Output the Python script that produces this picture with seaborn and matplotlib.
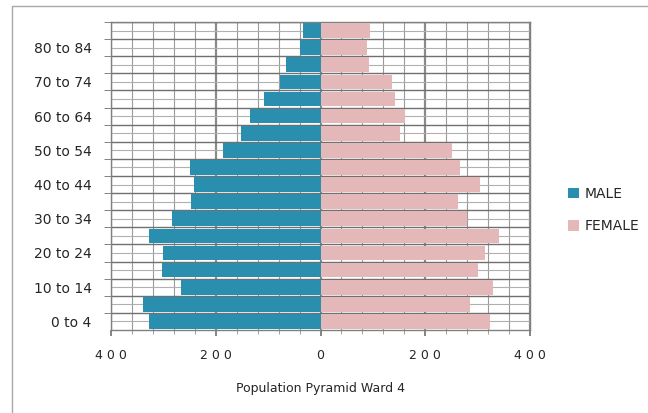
import matplotlib
matplotlib.use('Agg')
import matplotlib.pyplot as plt
import numpy as np
import pandas as pd
import seaborn as sns
from matplotlib.patches import Rectangle
from matplotlib.ticker import FuncFormatter, MultipleLocator

# ---- data (top row first, as in the picture) ----
age_groups = ['85+', '80 to 84', '75 to 79', '70 to 74', '65 to 69', '60 to 64',
              '55 to 59', '50 to 54', '45 to 49', '40 to 44', '35 to 39', '30 to 34',
              '25 to 29', '20 to 24', '15 to 19', '10 to 14', '5 to 9', '0 to 4']
male = [34, 39, 65, 78, 108, 135, 152, 186, 249, 242, 248, 284, 327, 301, 303, 267, 338, 327]
female = [95, 88, 92, 136, 143, 161, 151, 252, 266, 304, 262, 279, 340, 314, 301, 329, 286, 324]
shown_labels = ['80 to 84', '70 to 74', '60 to 64', '50 to 54', '40 to 44',
                '30 to 34', '20 to 24', '10 to 14', '0 to 4']

df = pd.DataFrame({
    'age': age_groups * 2,
    'value': [-m for m in male] + female,
    'sex': ['MALE'] * len(male) + ['FEMALE'] * len(female),
})

sns.set_style('white')
plt.rcParams['font.family'] = ['DejaVu Sans']

fig = plt.figure(figsize=(6.48, 4.13), dpi=100)
ax = fig.add_axes([111 / 648, 1 - 330 / 413, 419 / 648, 308 / 413])

# outer chart frame
fig.patches.append(Rectangle((12 / 648, -0.1), 1.2, 0.1 + 1 - 6 / 413,
                             transform=fig.transFigure, fill=False,
                             edgecolor='#a8a8a8', lw=1.0, zorder=0))

sns.barplot(data=df, x='value', y='age', hue='sex', order=age_groups,
            dodge=False, width=0.86, palette={'MALE': '#2a8fae', 'FEMALE': '#e4b8b8'},
            saturation=1, linewidth=0, ax=ax, zorder=3)

ax.set_xlim(-400, 400)
ax.set_ylim(len(age_groups) - 0.5, -0.5)

# grid: vertical every 40, heavier every 200; horizontal at row edges and centres
ax.xaxis.set_major_locator(MultipleLocator(200))
ax.xaxis.set_minor_locator(MultipleLocator(40))
ax.set_yticks(np.arange(len(age_groups)) - 0.5, minor=True)
ax.grid(which='major', axis='x', color='#8a8a8a', lw=1.6, zorder=0)
ax.grid(which='minor', axis='x', color='#9a9a9a', lw=0.8, zorder=0)
ax.grid(which='minor', axis='y', color='#707070', lw=1.0, zorder=0)
ax.grid(which='major', axis='y', color='#b0b0b0', lw=0.8, zorder=0)
ax.set_axisbelow(True)

ax.set_yticklabels([a if a in shown_labels else '' for a in age_groups], fontsize=10)
ax.xaxis.set_major_formatter(FuncFormatter(lambda v, p: ' '.join(str(abs(int(v))))))
ax.tick_params(axis='x', which='major', length=4, width=1.2, color='#707070',
               labelsize=9, pad=10, bottom=True)
ax.tick_params(axis='x', which='minor', length=3, color='#909090', bottom=True)
ax.tick_params(axis='y', which='major', length=0, pad=14)
ax.tick_params(axis='y', which='minor', length=5, color='#707070', left=True)

for s in ax.spines.values():
    s.set_color('#808080')
    s.set_linewidth(1.0)

ax.set_ylabel('')
ax.set_xlabel('Population Pyramid Ward 4', fontsize=9, labelpad=14)

leg = ax.legend(loc='center left', bbox_to_anchor=(562 / 648, 1 - 210 / 413),
                bbox_transform=fig.transFigure, frameon=False, fontsize=10,
                handlelength=0.8, handleheight=0.8, labelspacing=1.3,
                handletextpad=0.4, borderaxespad=0)

fig.savefig('out.png', dpi=100)
